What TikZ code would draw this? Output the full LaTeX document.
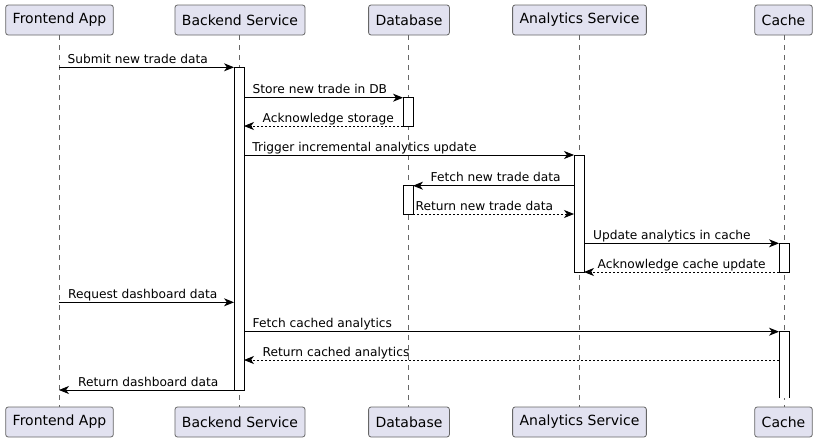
\documentclass[tikz,border=0pt]{standalone}
\usepackage{fontspec}
\setmainfont{DejaVu Sans}
\usetikzlibrary{arrows.meta,positioning}
\definecolor{partfill}{HTML}{E2E2F0}
\definecolor{partline}{HTML}{666666}
\tikzset{
	part/.style={draw=partline, fill=partfill, rounded corners=2.5pt, line width=0.8pt, minimum height=30pt, inner xsep=7pt, inner ysep=0pt, font=\fontsize{14}{16}\selectfont},
	life/.style={draw=partline, dash pattern=on 5pt off 5pt, line width=0.5pt},
	act/.style={draw=black, fill=white, line width=0.8pt},
	msg/.style={-{Stealth[length=10pt,width=8pt,inset=3pt]}, line width=0.8pt},
	ret/.style={msg, dash pattern=on 2pt off 2pt},
	lbl/.style={anchor=base west, inner sep=0pt, yshift=4pt, font=\fontsize{12.2}{14}\selectfont},
}
\begin{document}
\begin{tikzpicture}[x=1pt, y=-1pt]
			\useasboundingbox (0,0) rectangle (817,442);
			% participants, top and bottom
			\node (FA) 	[part] at (59.5,20)		{Frontend App};
			\node (BS) 	[part] at (240,20)		{Backend Service};
			\node (DB) 	[part] at (409,20)		{Database};
			\node (AS) 	[part] at (579.5,20)	{Analytics Service};
			\node (CA) 	[part] at (783.5,20)	{Cache};
			\node (FA2) [part] at (59.5,422)	{Frontend App};
			\node (BS2) [part] at (240,422)		{Backend Service};
			\node (DB2) [part] at (409,422)		{Database};
			\node (AS2) [part] at (579.5,422)	{Analytics Service};
			\node (CA2) [part] at (783.5,422)	{Cache};
			%
			\draw[life]	(59,35) -- (59,407);
			\draw[life]	(239,35) -- (239,407);
			\draw[life]	(408,35) -- (408,407);
			\draw[life]	(579,35) -- (579,407);
			\draw[life]	(784,35) -- (784,407);
			% activations
			\draw[act]	(234,67.3) rectangle (244,390);
			\draw[act]	(403,97.7) rectangle (413,126);
			\draw[act]	(574,155) rectangle (584,272);
			\draw[act]	(403,185.7) rectangle (413,214);
			\draw[act]	(779,243.3) rectangle (789,272);
			\fill[white]	(779,331.7) rectangle (789,398);
			\draw[act]	(779,398) -- (779,331.7) -- (789,331.7) -- (789,398);
			% message ends
			\coordinate (f1) at (59,67.3);		\coordinate (b1) at (234,67.3);
			\coordinate (b2) at (244,97.7);		\coordinate (d2) at (403,97.7);
			\coordinate (b3) at (244,126);		\coordinate (d3) at (403,126);
			\coordinate (b4) at (244,155);		\coordinate (a4) at (574,155);
			\coordinate (d5) at (413,185.7);	\coordinate (a5) at (574,185.7);
			\coordinate (d6) at (413,214);		\coordinate (a6) at (574,214);
			\coordinate (a7) at (584,243.3);	\coordinate (c7) at (779,243.3);
			\coordinate (a8) at (584,272);		\coordinate (c8) at (779,272);
			\coordinate (f9) at (59,302.3);		\coordinate (b9) at (234,302.3);
			\coordinate (b10) at (244,331.7);	\coordinate (c10) at (779,331.7);
			\coordinate (b11) at (244,360);		\coordinate (c11) at (779,360);
			\coordinate (f12) at (59,390);		\coordinate (b12) at (234,390);
			% messages
			\draw[msg]	(f1)	to node[lbl, at start, xshift=8.3pt]	{Submit new trade data}	(b1);
			\draw[msg]	(b2)	to node[lbl, at start, xshift=8.3pt]	{Store new trade in DB}	(d2);
			\draw[ret]	(d3)	to node[lbl, at end, xshift=18.3pt]		{Acknowledge storage}	(b3);
			\draw[msg]	(b4)	to node[lbl, at start, xshift=8pt]		{Trigger incremental analytics update}	(a4);
			\draw[msg]	(a5)	to node[lbl, at end, xshift=17.3pt]		{Fetch new trade data}	(d5);
			\draw[ret]	(d6)	to node[lbl, at start, xshift=2.3pt]	{Return new trade data}	(a6);
			\draw[msg]	(a7)	to node[lbl, at start, xshift=8.7pt]	{Update analytics in cache}	(c7);
			\draw[ret]	(c8)	to node[lbl, at end, xshift=13.3pt]		{Acknowledge cache update}	(a8);
			\draw[msg]	(f9)	to node[lbl, at start, xshift=8.7pt]	{Request dashboard data}	(b9);
			\draw[msg]	(b10)	to node[lbl, at start, xshift=8.3pt]	{Fetch cached analytics}	(c10);
			\draw[ret]	(c11)	to node[lbl, at end, xshift=18.3pt]		{Return cached analytics}	(b11);
			\draw[msg]	(b12)	to node[lbl, at end, xshift=18.7pt]		{Return dashboard data}	(f12);
		\end{tikzpicture}
\end{document}
